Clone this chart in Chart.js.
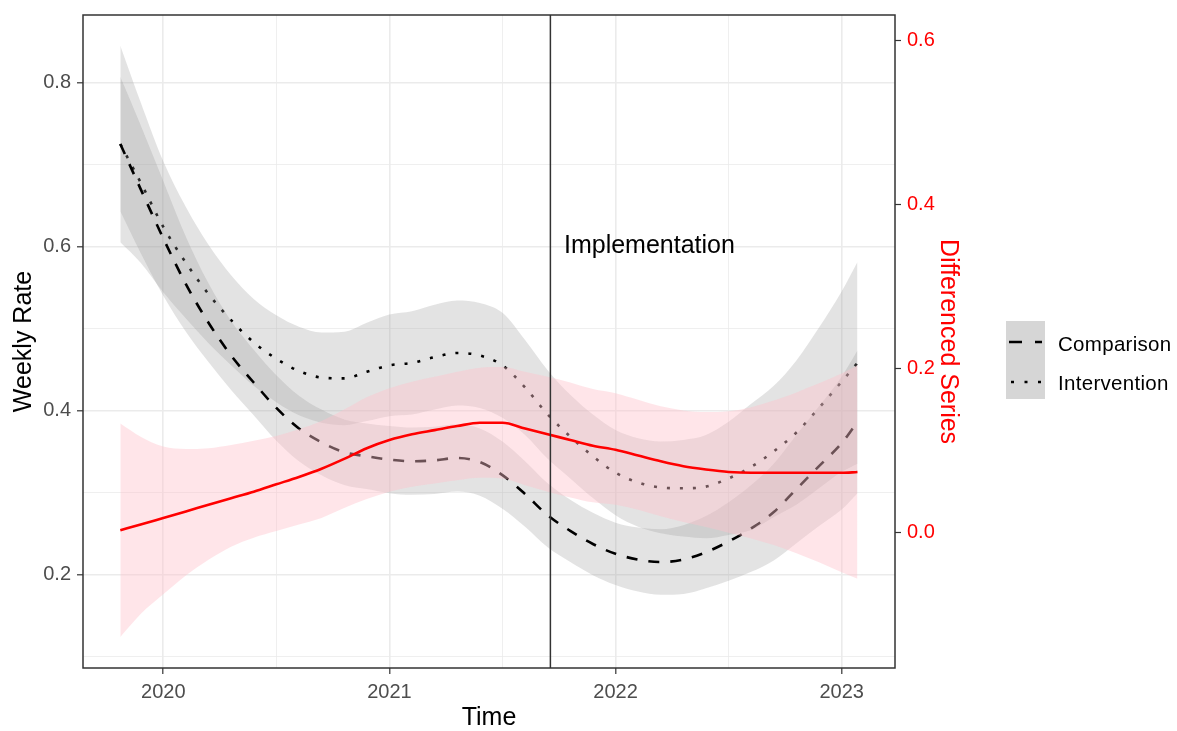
<!DOCTYPE html>
<html>
<head>
<meta charset="utf-8">
<title>Weekly rate and differenced series</title>
<script src="https://cdn.jsdelivr.net/npm/chart.js@4.4.0/dist/chart.umd.min.js"></script>
<style>
  html, body { margin: 0; padding: 0; background: #fff; }
  #wrap { position: relative; width: 1177px; height: 731px; }
  #legend {
    position: absolute; left: 1006px; top: 321px;
    font-family: "Liberation Sans", Arial, sans-serif; font-size: 20.5px; color: #000;
  }
  .row { display: flex; align-items: center; height: 39px; }
  .key { width: 39px; height: 39px; background: #d6d6d6; }
  .key svg { display: block; }
  .lab { margin-left: 13px; white-space: nowrap; position: relative; top: 3px; letter-spacing: 0.3px; }
</style>
</head>
<body>
<div id="wrap">
  <canvas id="chart" width="1177" height="731"></canvas>
  <div id="legend">
    <div class="row">
      <span class="key"><svg width="39" height="39"><line x1="3" y1="21" x2="36" y2="21" stroke="#000" stroke-width="2.5" stroke-dasharray="13 13"/></svg></span>
      <span class="lab">Comparison</span>
    </div>
    <div class="row">
      <span class="key"><svg width="39" height="39"><line x1="5" y1="22" x2="36" y2="22" stroke="#000" stroke-width="2.5" stroke-dasharray="3 10.5"/></svg></span>
      <span class="lab">Intervention</span>
    </div>
  </div>
</div>
<script>
// values
const time = [2019.81, 2019.9, 2020.0, 2020.1, 2020.2, 2020.3, 2020.4, 2020.5, 2020.6, 2020.7,
  2020.8, 2020.9, 2021.0, 2021.1, 2021.2, 2021.3, 2021.4, 2021.5, 2021.6, 2021.7,
  2021.8, 2021.9, 2022.0, 2022.1, 2022.2, 2022.3, 2022.4, 2022.5, 2022.6, 2022.7,
  2022.8, 2022.9, 2023.0, 2023.07];

const comparison = [0.725, 0.670, 0.610, 0.554, 0.507, 0.467, 0.434, 0.403, 0.378, 0.361,
  0.349, 0.344, 0.340, 0.338, 0.339, 0.342, 0.337, 0.321, 0.298, 0.272,
  0.253, 0.237, 0.225, 0.218, 0.215, 0.218, 0.227, 0.240, 0.256, 0.276,
  0.304, 0.332, 0.360, 0.386];
const comparisonUpper = [0.807, 0.748, 0.680, 0.612, 0.555, 0.509, 0.474, 0.443, 0.418, 0.401,
  0.389, 0.384, 0.381, 0.379, 0.380, 0.383, 0.378, 0.362, 0.338, 0.311,
  0.291, 0.275, 0.263, 0.257, 0.255, 0.260, 0.271, 0.288, 0.309, 0.335,
  0.370, 0.405, 0.441, 0.473];
const comparisonLower = [0.643, 0.592, 0.540, 0.496, 0.459, 0.425, 0.394, 0.363, 0.338, 0.321,
  0.309, 0.304, 0.299, 0.297, 0.298, 0.301, 0.296, 0.280, 0.258, 0.233,
  0.215, 0.199, 0.187, 0.179, 0.175, 0.176, 0.183, 0.192, 0.203, 0.217,
  0.238, 0.259, 0.279, 0.299];

const intervention = [0.725, 0.678, 0.624, 0.580, 0.542, 0.510, 0.483, 0.463, 0.448, 0.440,
  0.439, 0.447, 0.455, 0.458, 0.465, 0.470, 0.467, 0.455, 0.428, 0.395,
  0.368, 0.344, 0.324, 0.312, 0.306, 0.305, 0.307, 0.317, 0.331, 0.350,
  0.373, 0.403, 0.435, 0.458];
const interventionUpper = [0.845, 0.776, 0.704, 0.648, 0.602, 0.565, 0.536, 0.516, 0.502, 0.495,
  0.496, 0.507, 0.517, 0.521, 0.529, 0.534, 0.531, 0.519, 0.486, 0.449,
  0.419, 0.395, 0.376, 0.366, 0.362, 0.364, 0.370, 0.386, 0.408, 0.430,
  0.461, 0.501, 0.545, 0.581];
const interventionLower = [0.605, 0.580, 0.544, 0.512, 0.482, 0.455, 0.430, 0.410, 0.394, 0.385,
  0.382, 0.387, 0.393, 0.395, 0.401, 0.406, 0.403, 0.391, 0.370, 0.341,
  0.317, 0.293, 0.272, 0.258, 0.250, 0.246, 0.244, 0.248, 0.254, 0.270,
  0.285, 0.305, 0.325, 0.335];

const differenced = [0.003, 0.010, 0.018, 0.026, 0.034, 0.042, 0.050, 0.059, 0.068, 0.078,
  0.090, 0.103, 0.113, 0.120, 0.125, 0.130, 0.134, 0.134, 0.127, 0.120,
  0.113, 0.106, 0.101, 0.094, 0.087, 0.081, 0.077, 0.074, 0.073, 0.073,
  0.073, 0.073, 0.073, 0.074];
const differencedUpper = [0.133, 0.117, 0.105, 0.102, 0.103, 0.107, 0.112, 0.118, 0.126, 0.136,
  0.150, 0.165, 0.176, 0.184, 0.190, 0.196, 0.201, 0.202, 0.196, 0.190,
  0.183, 0.175, 0.170, 0.162, 0.154, 0.149, 0.147, 0.148, 0.153, 0.161,
  0.171, 0.182, 0.194, 0.204];
const differencedLower = [-0.127, -0.099, -0.075, -0.052, -0.033, -0.017, -0.006, 0.002, 0.010, 0.018,
  0.030, 0.041, 0.050, 0.056, 0.060, 0.064, 0.067, 0.066, 0.058, 0.050,
  0.043, 0.037, 0.034, 0.028, 0.020, 0.013, 0.007, 0.000, -0.007, -0.015,
  -0.025, -0.036, -0.048, -0.056];

const timeTicks = [2020, 2021, 2022, 2023];
const timeTickLabels = ["2020", "2021", "2022", "2023"];
const timeMinor = [2020.5, 2021.5, 2022.5];
const rateTicks = [0.2, 0.4, 0.6, 0.8];
const rateTickLabels = ["0.2", "0.4", "0.6", "0.8"];
const rateMinor = [0.1, 0.3, 0.5, 0.7];
const diffTicks = [0.0, 0.2, 0.4, 0.6];
const diffTickLabels = ["0.0", "0.2", "0.4", "0.6"];

const implementationTime = 2021.712;
const labelTime = 2022.15;
const labelRate = 0.6;

const FONT = '"Liberation Sans", Arial, sans-serif';
const GREY_RIBBON = "rgba(153,153,153,0.28)";
const PINK_RIBBON = "rgba(255,192,203,0.42)";

const pts = vals => vals.map((v, i) => ({ x: time[i], y: v }));
const findIdx = (arr, v) => arr.findIndex(a => Math.abs(a - v) < 1e-6);

function edge(vals, axis, order, fill, color) {
  return {
    data: pts(vals), yAxisID: axis, order: order,
    borderWidth: 0, pointRadius: 0, fill: fill === undefined ? false : fill,
    backgroundColor: color || "transparent", borderColor: "transparent",
    cubicInterpolationMode: "monotone"
  };
}

function curve(vals, axis, order, color, dash) {
  return {
    data: pts(vals), yAxisID: axis, order: order,
    borderColor: color, borderWidth: 2.6, borderDash: dash, pointRadius: 0,
    fill: false, cubicInterpolationMode: "monotone", borderCapStyle: "butt"
  };
}

// drawing order: intervention, comparison, differenced series on top
const datasets = [
  edge(interventionLower, "y", 60),
  edge(interventionUpper, "y", 59, 0, GREY_RIBBON),
  curve(intervention, "y", 50, "#000", [3, 10]),
  edge(comparisonLower, "y", 40),
  edge(comparisonUpper, "y", 39, 3, GREY_RIBBON),
  curve(comparison, "y", 30, "#000", [11, 11]),
  edge(differencedLower, "y2", 20),
  edge(differencedUpper, "y2", 19, 6, PINK_RIBBON),
  curve(differenced, "y2", 10, "#ff0000", [])
];

const overlay = {
  id: "overlay",
  afterDatasetsDraw(chart) {
    const { ctx, chartArea: a, scales } = chart;
    const vx = scales.x.getPixelForValue(implementationTime);
    ctx.save();
    ctx.strokeStyle = "#333333";
    ctx.lineWidth = 1.5;
    ctx.beginPath();
    ctx.moveTo(vx, a.top);
    ctx.lineTo(vx, a.bottom);
    ctx.stroke();
    ctx.font = "25px " + FONT;
    ctx.fillStyle = "#000";
    ctx.textAlign = "center";
    ctx.textBaseline = "middle";
    ctx.fillText("Implementation", scales.x.getPixelForValue(labelTime), scales.y.getPixelForValue(labelRate));
    ctx.strokeRect(a.left, a.top, a.right - a.left, a.bottom - a.top);
    ctx.restore();
  }
};

function noPad(s) {
  s.paddingTop = 0;
  s.paddingBottom = 0;
}

new Chart(document.getElementById("chart"), {
  type: "line",
  data: { datasets: datasets },
  plugins: [overlay],
  options: {
    responsive: false,
    animation: false,
    devicePixelRatio: 1,
    events: [],
    layout: { padding: { left: 0, right: 212, top: 15, bottom: 0 } },
    plugins: { legend: { display: false }, tooltip: { enabled: false } },
    scales: {
      x: {
        type: "linear", position: "bottom", min: 2019.645, max: 2023.236,
        afterBuildTicks: s => { s.ticks = timeTicks.concat(timeMinor).sort().map(v => ({ value: v })); },
        afterFit: s => { s.height = 63; },
        border: { display: false },
        grid: {
          color: "#ebebeb",
          lineWidth: c => findIdx(timeTicks, c.tick.value) >= 0 ? 1.6 : 0.8,
          tickLength: 6, tickWidth: 1.2,
          tickColor: c => findIdx(timeTicks, c.tick.value) >= 0 ? "#333333" : "rgba(0,0,0,0)"
        },
        ticks: {
          autoSkip: false, maxRotation: 0, padding: 6, color: "#4d4d4d",
          font: { family: FONT, size: 20 },
          callback: v => { const i = findIdx(timeTicks, v); return i >= 0 ? timeTickLabels[i] : ""; }
        },
        title: { display: true, text: "Time", color: "#000", font: { family: FONT, size: 25, lineHeight: 1 }, padding: { top: 0, bottom: 0 } }
      },
      y: {
        type: "linear", position: "left", min: 0.0857, max: 0.8824,
        afterBuildTicks: s => { s.ticks = rateTicks.concat(rateMinor).sort().map(v => ({ value: v })); },
        afterFit: s => { s.width = 83; noPad(s); },
        border: { display: false },
        grid: {
          color: "#ebebeb",
          lineWidth: c => findIdx(rateTicks, c.tick.value) >= 0 ? 1.6 : 0.8,
          tickLength: 6, tickWidth: 1.2,
          tickColor: c => findIdx(rateTicks, c.tick.value) >= 0 ? "#333333" : "rgba(0,0,0,0)"
        },
        ticks: {
          autoSkip: false, padding: 6, color: "#4d4d4d",
          font: { family: FONT, size: 20 },
          callback: v => { const i = findIdx(rateTicks, v); return i >= 0 ? rateTickLabels[i] : ""; }
        },
        title: { display: true, text: "Weekly Rate", color: "#000", font: { family: FONT, size: 25, lineHeight: 1 }, padding: { top: 12, bottom: 0 } }
      },
      y2: {
        type: "linear", position: "right", min: -0.1648, max: 0.6308,
        afterBuildTicks: s => { s.ticks = diffTicks.map(v => ({ value: v })); },
        afterFit: s => { s.width = 70; noPad(s); },
        border: { display: false },
        grid: { drawOnChartArea: false, tickLength: 6, tickWidth: 1.2, tickColor: "#333333" },
        ticks: {
          autoSkip: false, padding: 6, color: "#ff0000",
          font: { family: FONT, size: 20 },
          callback: v => { const i = findIdx(diffTicks, v); return i >= 0 ? diffTickLabels[i] : ""; }
        },
        title: { display: true, text: "Differenced Series", color: "#ff0000", font: { family: FONT, size: 25, lineHeight: 1 }, padding: { top: 4.5, bottom: 0 } }
      }
    }
  }
});
</script>
</body>
</html>
